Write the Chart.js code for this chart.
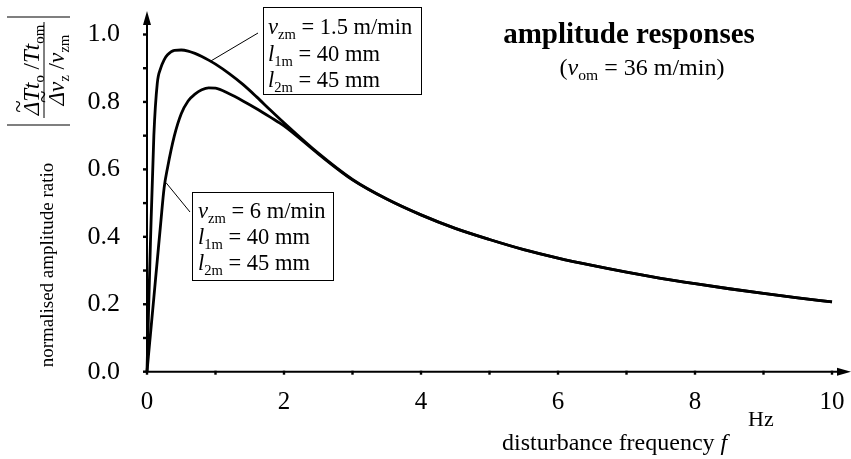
<!DOCTYPE html>
<html>
<head>
<meta charset="utf-8">
<script src="https://cdn.jsdelivr.net/npm/chart.js@4.4.1/dist/chart.umd.min.js"></script>
<style>
  html, body { margin: 0; padding: 0; background: #fff; }
</style>
</head>
<body>
<canvas id="amp" width="851" height="459"></canvas>
<script>
// disturbance frequency f in Hz
const freq = [0, 0.02, 0.05, 0.1, 0.15, 0.2, 0.25, 0.3, 0.4, 0.5, 0.6, 0.7, 0.8, 0.9, 1.0,
  1.2, 1.4, 1.6, 1.8, 2.0, 2.5, 3, 3.5, 4, 4.5, 5, 5.5, 6, 6.5, 7, 7.5, 8, 8.5, 9, 9.5, 10];
// v_zm = 1.5 m/min
const ampSlow = [0, 0.16, 0.38, 0.70, 0.855, 0.90, 0.925, 0.940, 0.953, 0.954, 0.951, 0.944, 0.935, 0.924, 0.912,
  0.884, 0.852, 0.815, 0.776, 0.738, 0.648, 0.570, 0.512, 0.465, 0.425, 0.392, 0.362, 0.337, 0.315, 0.295, 0.277, 0.261, 0.246, 0.232, 0.219, 0.207];
// v_zm = 6 m/min
const ampFast = [0, 0.045, 0.11, 0.22, 0.33, 0.44, 0.545, 0.605, 0.70, 0.765, 0.803, 0.823, 0.836, 0.842, 0.841,
  0.824, 0.803, 0.780, 0.755, 0.729, 0.646, 0.569, 0.512, 0.465, 0.425, 0.392, 0.362, 0.337, 0.315, 0.295, 0.277, 0.261, 0.246, 0.232, 0.219, 0.207];

const xLabels = [0, 2, 4, 6, 8, 10];
const yLabels = [0, 0.2, 0.4, 0.6, 0.8, 1.0];

const SERIF = '"Liberation Serif", "Times New Roman", serif';

// draws a line of mixed text: parts are [text, style], style letters: i italic, s subscript, b bold, t tilde
function rich(ctx, parts, x, y, size, align) {
  const fontOf = st => (st.includes('i') ? 'italic ' : '') + (st.includes('b') ? 'bold ' : '') +
    (st.includes('s') ? size * 0.65 : size) + 'px ' + SERIF;
  let w = 0;
  parts.forEach(p => { ctx.font = fontOf(p[1] || ''); w += ctx.measureText(p[0]).width; });
  let cx = align === 'center' ? x - w / 2 : align === 'right' ? x - w : x;
  ctx.textAlign = 'left';
  ctx.textBaseline = 'alphabetic';
  parts.forEach(p => {
    const st = p[1] || '';
    ctx.font = fontOf(st);
    const pw = ctx.measureText(p[0]).width;
    ctx.fillText(p[0], cx, st.includes('s') ? y + size * 0.22 : y);
    if (st.includes('t')) {
      ctx.font = size + 'px ' + SERIF;
      ctx.fillText('~', cx + pw / 2 - ctx.measureText('~').width / 2 + 2, y - size * 0.55);
    }
    cx += pw;
  });
  return w;
}

const decor = {
  id: 'decor',
  afterDraw(chart) {
    const { ctx, scales: { x, y } } = chart;
    const x0 = x.getPixelForValue(0), y0 = y.getPixelForValue(0);
    ctx.save();
    ctx.strokeStyle = '#000';
    ctx.fillStyle = '#000';

    // axes with arrow heads
    ctx.lineWidth = 2;
    ctx.beginPath();
    ctx.moveTo(x0, y0 + 1); ctx.lineTo(x0, 22);
    ctx.moveTo(x0 - 1, y0); ctx.lineTo(840, y0);
    ctx.stroke();
    ctx.beginPath();
    ctx.moveTo(x0, 11); ctx.lineTo(x0 - 4, 25); ctx.lineTo(x0 + 4, 25); ctx.closePath();
    ctx.moveTo(851, y0); ctx.lineTo(837, y0 - 4); ctx.lineTo(837, y0 + 4); ctx.closePath();
    ctx.fill();

    // tick marks
    for (let v = 0; v <= 10; v++) {
      const px = x.getPixelForValue(v);
      ctx.fillRect(px - 1.2, y0 - 1, 2.4, 4);
    }
    for (let k = 0; k <= 10; k++) {
      const py = y.getPixelForValue(k / 10);
      ctx.fillRect(x0 - 4, py - 1.2, 4, 2.4);
    }

    // title
    ctx.font = 'bold 29px ' + SERIF;
    ctx.textAlign = 'center';
    ctx.fillText('amplitude responses', 629, 43);
    rich(ctx, [['('], ['v', 'i'], ['om', 's'], [' = 36 m/min)']], 642, 75, 24, 'center');

    // annotation boxes
    ctx.lineWidth = 1;
    ctx.strokeRect(263.5, 7.5, 158, 87);
    ctx.strokeRect(192.5, 192.5, 141, 88);
    ctx.beginPath();
    ctx.moveTo(258, 33);
    ctx.lineTo(x.getPixelForValue(0.92), y.getPixelForValue(0.92));
    ctx.moveTo(190, 212);
    ctx.lineTo(x.getPixelForValue(0.28), y.getPixelForValue(0.56));
    ctx.stroke();

    rich(ctx, [['v', 'i'], ['zm', 's'], [' = 1.5 m/min']], 268, 34, 22.5);
    rich(ctx, [['l', 'i'], ['1m', 's'], [' = 40 mm']], 268, 61, 22.5);
    rich(ctx, [['l', 'i'], ['2m', 's'], [' = 45 mm']], 268, 87, 22.5);
    rich(ctx, [['v', 'i'], ['zm', 's'], [' = 6 m/min']], 198, 218, 22.5);
    rich(ctx, [['l', 'i'], ['1m', 's'], [' = 40 mm']], 198, 244, 22.5);
    rich(ctx, [['l', 'i'], ['2m', 's'], [' = 45 mm']], 198, 270, 22.5);

    // x axis title and unit
    rich(ctx, [['disturbance frequency '], ['f', 'i']], 502, 450, 24);
    rich(ctx, [['Hz']], 748, 426, 22);

    // y axis title (rotated)
    ctx.save();
    ctx.translate(53, 265);
    ctx.rotate(-Math.PI / 2);
    rich(ctx, [['normalised amplitude ratio']], 0, 0, 19, 'center');
    ctx.restore();

    ctx.save();
    ctx.translate(44, 70);
    ctx.rotate(-Math.PI / 2);
    rich(ctx, [['Δ', 'it'], ['T', 'i'], ['t', 'i'], ['o', 's'], [' /'], ['T', 'i'], ['t', 'i'], ['om', 's']], 0, -5, 23, 'center');
    rich(ctx, [['Δ', 'it'], ['v', 'i'], ['z', 's'], [' /'], ['v', 'i'], ['zm', 's']], 0, 20, 23, 'center');
    ctx.lineWidth = 1;
    ctx.beginPath();
    ctx.moveTo(-48, 0); ctx.lineTo(48, 0);
    ctx.stroke();
    ctx.restore();
    ctx.lineWidth = 1.2;
    ctx.beginPath();
    ctx.moveTo(7, 17); ctx.lineTo(70, 17);
    ctx.moveTo(7, 125); ctx.lineTo(70, 125);
    ctx.stroke();

    ctx.restore();
  }
};

const toPoints = ys => freq.map((f, i) => ({ x: f, y: ys[i] }));

new Chart(document.getElementById('amp'), {
  type: 'line',
  data: {
    datasets: [
      { label: 'v_zm = 1.5 m/min', data: toPoints(ampSlow) },
      { label: 'v_zm = 6 m/min', data: toPoints(ampFast) }
    ].map(d => Object.assign(d, {
      borderColor: '#000', borderWidth: 2.8, pointRadius: 0,
      cubicInterpolationMode: 'monotone', fill: false, clip: false
    }))
  },
  options: {
    responsive: false,
    animation: false,
    layout: { padding: { top: 34.5, right: 19, left: 0, bottom: 0 } },
    plugins: { legend: { display: false }, tooltip: { enabled: false } },
    scales: {
      x: {
        type: 'linear', min: 0, max: 10,
        afterFit: s => { s.height = 87.3; s.paddingLeft = 0; s.paddingRight = 0; },
        afterBuildTicks: s => { s.ticks = xLabels.map(v => ({ value: v })); },
        grid: { display: false, drawTicks: false },
        border: { display: false },
        ticks: {
          padding: 16, color: '#000', maxRotation: 0,
          font: { family: SERIF, size: 25 }
        }
      },
      y: {
        min: 0, max: 1,
        afterFit: s => { s.width = 147; s.paddingTop = 0; s.paddingBottom = 0; },
        afterBuildTicks: s => { s.ticks = yLabels.map(v => ({ value: v })); },
        grid: { display: false, drawTicks: false },
        border: { display: false },
        ticks: {
          padding: 27, color: '#000',
          font: { family: SERIF, size: 26 },
          callback: v => v.toFixed(1)
        }
      }
    }
  },
  plugins: [decor]
});
</script>
</body>
</html>
